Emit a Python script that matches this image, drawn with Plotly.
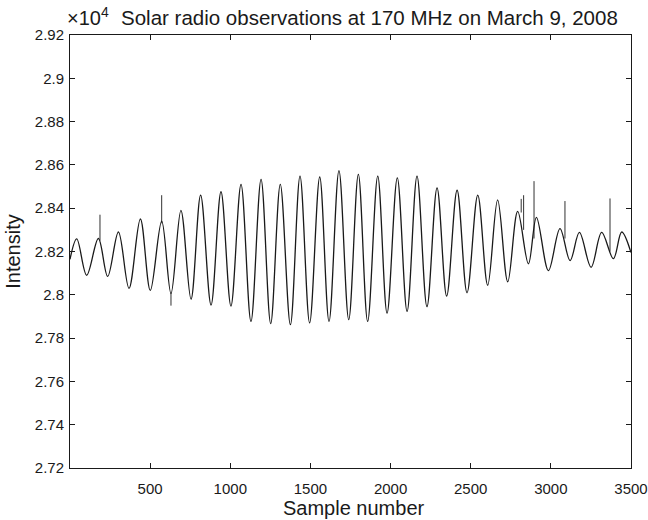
import numpy as np
import plotly.graph_objects as go

# Turning points of the recorded intensity trace (sample index, raw intensity)
sample_idx = [0, 42, 104, 177, 235, 302, 368, 439, 501, 572, 630, 692, 755, 815,
              880, 942, 1004, 1067, 1129, 1192, 1252, 1312, 1375, 1435, 1495, 1558,
              1616, 1678, 1739, 1799, 1857, 1920, 1978, 2042, 2103, 2165, 2227, 2290,
              2350, 2415, 2477, 2544, 2606, 2668, 2731, 2793, 2860, 2910, 2985, 3057,
              3120, 3178, 3251, 3317, 3390, 3442, 3500]
intensity = [28164, 28258, 28090, 28260, 28085, 28290, 28030, 28350, 28020, 28340,
             28006, 28390, 27980, 28460, 27953, 28476, 27948, 28510, 27877, 28533,
             27867, 28510, 27862, 28548, 27870, 28544, 27877, 28574, 27885, 28556,
             27877, 28548, 27915, 28540, 27923, 28548, 27945, 28494, 27994, 28483,
             28009, 28460, 28044, 28438, 28060, 28385, 28143, 28358, 28112, 28306,
             28158, 28288, 28127, 28288, 28167, 28290, 28195]

# Short interference spikes on top of the trace (sample, base level, tip level)
spike_idx = [187, 572, 630, 2815, 2830, 2895, 3088, 3369]
spike_base = [28250, 28330, 28010, 28380, 28300, 28260, 28260, 28200]
spike_tip = [28370, 28460, 27950, 28443, 28460, 28525, 28433, 28445]

x_ticks = [500, 1000, 1500, 2000, 2500, 3000, 3500]
y_ticks = [2.72, 2.74, 2.76, 2.78, 2.80, 2.82, 2.84, 2.86, 2.88, 2.90, 2.92]
y_tick_text = ["2.72", "2.74", "2.76", "2.78", "2.8", "2.82", "2.84", "2.86",
               "2.88", "2.9", "2.92"]

SCALE = 1e4
FONT = "Liberation Sans, Arial, Helvetica, sans-serif"
INK = "#1a1a1a"

# plot-area geometry in pixels
W, H = 648, 520
ML, MR, MT, MB = 70, 17, 35, 52
PW, PH = W - ML - MR, H - MT - MB

fig = go.Figure()

fig.add_trace(go.Scatter(
    x=sample_idx,
    y=np.array(intensity) / SCALE,
    mode="lines",
    line=dict(color=INK, width=1.3, shape="spline", smoothing=1.0),
    showlegend=False,
    hoverinfo="skip",
))

# spikes drawn as vertical segments
sx, sy = [], []
for s, b, t in zip(spike_idx, spike_base, spike_tip):
    sx += [s, s, None]
    sy += [b / SCALE, t / SCALE, None]
fig.add_trace(go.Scatter(
    x=sx, y=sy, mode="lines",
    line=dict(color=INK, width=0.9),
    showlegend=False, hoverinfo="skip",
))

axis_common = dict(
    showline=True, linecolor=INK, linewidth=1, mirror="ticks",
    ticks="inside", ticklen=5, tickcolor=INK, tickwidth=1,
    showgrid=False, zeroline=False, automargin=False,
    tickfont=dict(family=FONT, size=15, color=INK),
)


def px_to_paper(px_x, px_y):
    return (px_x - ML) / PW, (H - MB - px_y) / PH


t1x, t1y = px_to_paper(65, 31)
t2x, t2y = px_to_paper(119, 31)
xtx, xty = px_to_paper(354, 508)

fig.update_layout(
    width=W, height=H,
    margin=dict(l=ML, r=MR, t=MT, b=MB),
    paper_bgcolor="white", plot_bgcolor="white",
    font=dict(family=FONT, color=INK),
    xaxis=dict(
        range=[0, 3500], tickvals=x_ticks,
        ticklabelstandoff=7,
        **axis_common,
    ),
    yaxis=dict(
        range=[2.72, 2.92], tickvals=y_ticks, ticktext=y_tick_text,
        title=dict(text="Intensity", font=dict(family=FONT, size=20, color=INK),
                   standoff=8),
        ticklabelstandoff=2,
        **axis_common,
    ),
    annotations=[
        dict(text="×10<sup>4</sup>", x=t1x, y=t1y, xref="paper", yref="paper",
             showarrow=False, xanchor="left", yanchor="bottom",
             font=dict(family=FONT, size=20, color=INK)),
        dict(text="Solar radio observations at 170 MHz on March 9, 2008",
             x=t2x, y=t2y, xref="paper", yref="paper", showarrow=False,
             xanchor="left", yanchor="bottom",
             font=dict(family=FONT, size=20.5, color=INK)),
        dict(text="Sample number", x=xtx, y=xty, xref="paper", yref="paper",
             showarrow=False, xanchor="center", yanchor="middle",
             font=dict(family=FONT, size=20, color=INK)),
    ],
)

fig.write_html("out.html")
